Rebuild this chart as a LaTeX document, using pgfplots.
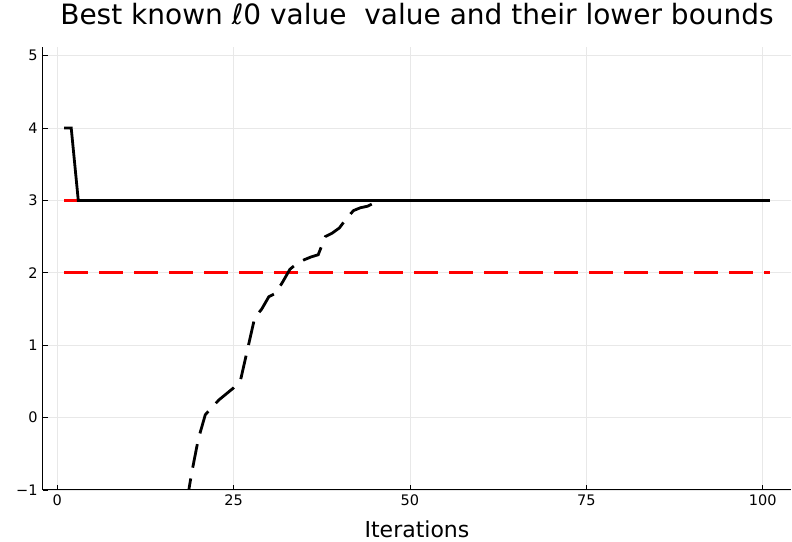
\documentclass[border=0pt]{standalone}
\usepackage{pgfplots}
\pgfplotsset{compat=1.18}
\usepackage{fontspec}
\setmainfont{DejaVu Sans}
\begin{document}
\begin{tikzpicture}
\useasboundingbox (0,0) rectangle (792bp,542bp);
\begin{axis}[
  at={(43bp,52bp)}, anchor=south west,
  scale only axis, width=748bp, height=443bp,
  xmin=-2, xmax=104, ymin=-1, ymax=5.12,
  xtick={0,25,50,75,100}, ytick={-1,0,1,2,3,4,5},
  yticklabels={−1,0,1,2,3,4,5},
  axis x line*=bottom, axis y line*=left,
  axis line style={line width=1bp, -},
  tick style={black, line width=0.8bp},
  major tick length=5bp,
  tick align=inside,
  grid=major, grid style={line width=0.7bp, black!9},
  /pgf/number format/assume math mode=true,
  ticklabel style={font=\fontsize{14.5bp}{15bp}\selectfont},
  yticklabel style={xshift=-2bp},
  xticklabel style={yshift=-1bp},
  xlabel={Iterations},
  xlabel style={font=\fontsize{22bp}{24bp}\selectfont, at={(0.5,0)}, anchor=base, yshift=-47.5bp},
  title={Best known ℓ0 value\ \ value and their lower bounds},
  title style={font=\fontsize{28bp}{30bp}\selectfont, at={(0.5,1)}, anchor=base, yshift=17bp},
  clip=true,
]
\addplot[red, line width=2.8bp] coordinates {(1,3) (101,3)};
\addplot[red, line width=2.8bp, dash pattern=on 24bp off 11bp] coordinates {(1,2) (101,2)};
\addplot[black, line width=2.8bp] coordinates {(1,4) (2,4) (3,3) (101,3)};
\addplot[black, line width=2.8bp, dash pattern=on 24bp off 11bp] coordinates {
(16,-2.6) (17,-2.0) (18,-1.4) (19,-0.8) (20,-0.3) (21,0.04) (22,0.15) (23,0.25) (24,0.33) (25,0.41) (26,0.52) (27,0.95) (28,1.38) (29,1.5) (30,1.67) (31,1.72) (32,1.88) (33,2.05) (34,2.13) (35,2.18) (36,2.22) (37,2.25) (38,2.5) (39,2.55) (40,2.62) (41,2.75) (42,2.86) (43,2.9) (44,2.92) (45,2.97) (46,3.0) (101,3.0)};
\end{axis}
\end{tikzpicture}
\end{document}
